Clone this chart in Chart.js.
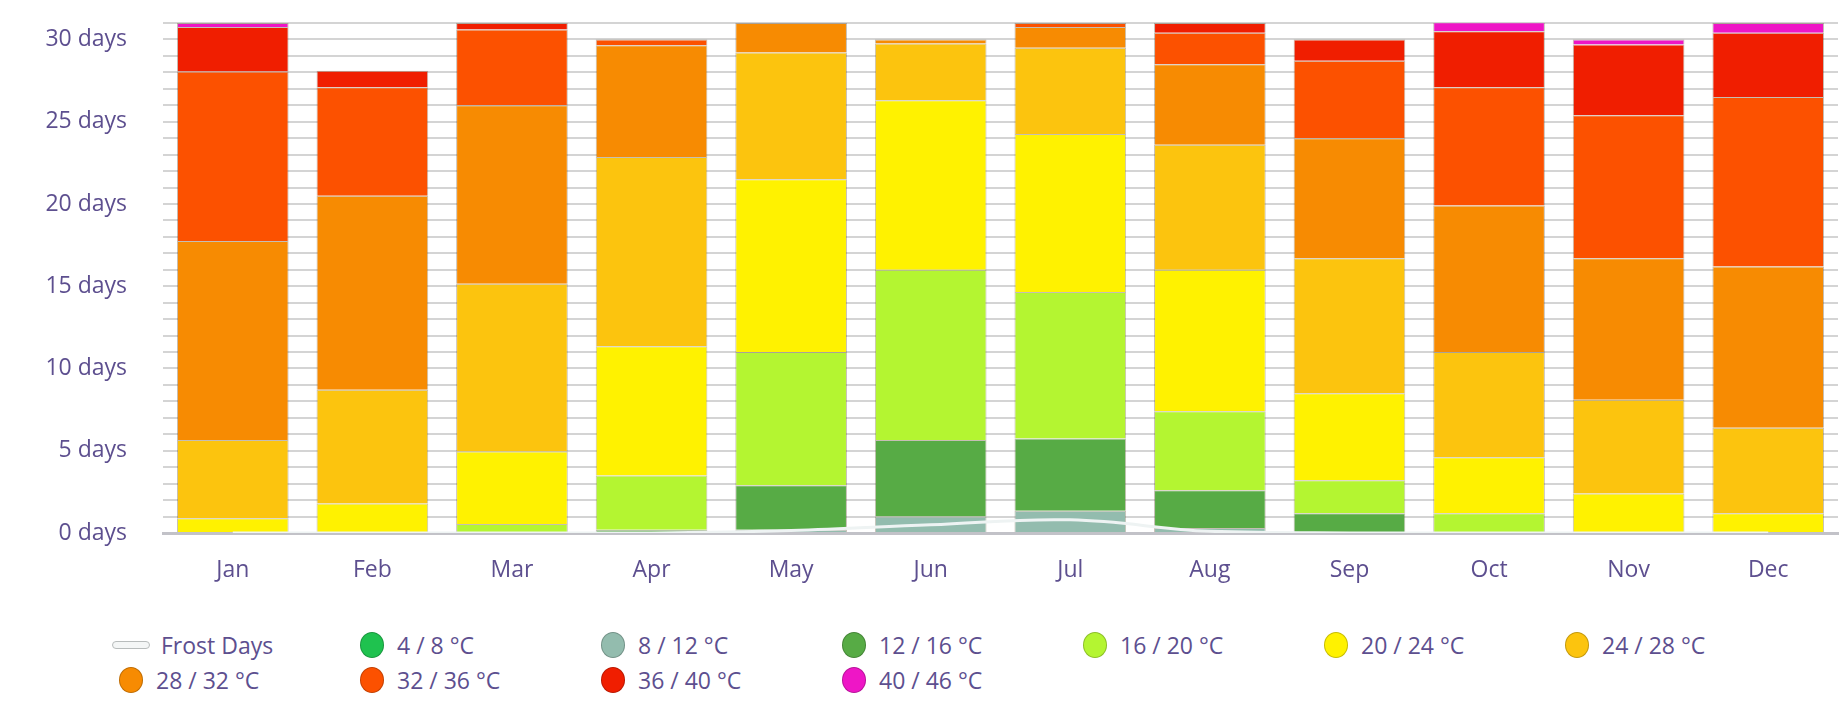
<!DOCTYPE html>
<html>
<head>
<meta charset="utf-8">
<script src="https://cdn.jsdelivr.net/npm/chart.js@4.4.1/dist/chart.umd.min.js"></script>
<style>
  body { margin: 0; background: #fff; }
  #wrap { position: relative; width: 1846px; height: 703px; }
  #chart { position: absolute; left: 0; top: 0; }
  .leg { position: absolute; display: flex; align-items: center; font-family: "Open Sans", sans-serif;
         font-size: 23px; color: #5d4f8f; white-space: nowrap; transform: translateY(-50%); }
  .dot { width: 24px; height: 26px; border-radius: 50%; box-sizing: border-box;
         border: 1.5px solid rgba(0,0,0,0.22); margin-right: 13px; }
  .dash { width: 38px; height: 8px; border-radius: 4px; box-sizing: border-box;
          border: 1.5px solid #b8bcbc; background: #f4f6f6; margin-right: 11px; }
</style>
</head>
<body>
<div id="wrap">
  <canvas id="chart" width="1846" height="600"></canvas>
  <div id="legend"></div>
</div>
<script>
// months and tick labels
const months = ['Jan', 'Feb', 'Mar', 'Apr', 'May', 'Jun', 'Jul', 'Aug', 'Sep', 'Oct', 'Nov', 'Dec'];
const yTickStep = 5;
const yMax = 31;

// frost days line
const frostDays = [0, 0, 0, 0, 0.15, 0.5, 0.8, 0.1, 0, 0, 0, 0];

// days per month in each max-temperature band
const t4_8   = [0, 0, 0, 0, 0, 0, 0, 0, 0, 0, 0, 0];
const t8_12  = [0, 0, 0, 0, 0.2, 1.0, 1.35, 0.3, 0, 0, 0, 0];
const t12_16 = [0, 0, 0, 0.2, 2.7, 4.65, 4.4, 2.3, 1.2, 0, 0, 0];
const t16_20 = [0, 0, 0.55, 3.3, 8.1, 10.35, 8.9, 4.8, 2.0, 1.2, 0, 0];
const t20_24 = [0.9, 1.8, 4.4, 7.85, 10.5, 10.3, 9.6, 8.6, 5.3, 3.4, 2.4, 1.2];
const t24_28 = [4.75, 6.9, 10.2, 11.5, 7.7, 3.45, 5.25, 7.6, 8.2, 6.4, 5.7, 5.2];
const t28_32 = [12.1, 11.8, 10.85, 6.8, 1.8, 0.25, 1.25, 4.9, 7.3, 8.9, 8.6, 9.8];
const t32_36 = [10.3, 6.6, 4.6, 0.35, 0, 0, 0.25, 1.9, 4.7, 7.2, 8.7, 10.3];
const t36_40 = [2.7, 1.0, 0.4, 0, 0, 0, 0, 0.6, 1.3, 3.4, 4.3, 3.9];
const t40_46 = [0.25, 0, 0, 0, 0, 0, 0, 0, 0, 0.55, 0.3, 0.6];

const bandLabels = ['4 / 8 °C', '8 / 12 °C', '12 / 16 °C', '16 / 20 °C', '20 / 24 °C',
                    '24 / 28 °C', '28 / 32 °C', '32 / 36 °C', '36 / 40 °C', '40 / 46 °C'];
const bandValues = [t4_8, t8_12, t12_16, t16_20, t20_24, t24_28, t28_32, t32_36, t36_40, t40_46];
const bandColors = ['#1fc24f', '#93bcae', '#57ab45', '#b4f531', '#fff200',
                    '#fcc40e', '#f78b02', '#fc5100', '#f01e00', '#ee16c6'];

const textColor = '#5d4f8f';
const font = { family: '"Open Sans", sans-serif', size: 23 };

const datasets = [{
    type: 'line',
    label: 'Frost Days',
    data: frostDays,
    stack: 'frost',
    borderColor: '#eef3f3',
    borderWidth: 3,
    pointRadius: 0,
    tension: 0.4,
    fill: false
}];
bandLabels.forEach((label, i) => {
    datasets.push({
        type: 'bar',
        label: label,
        data: bandValues[i],
        stack: 'temp',
        backgroundColor: bandColors[i],
        borderColor: 'rgba(90, 70, 40, 0.35)',
        borderWidth: 1,
        barPercentage: 0.8,
        categoryPercentage: 1
    });
});

const ctx = document.getElementById('chart').getContext('2d');
const chart = new Chart(ctx, {
    data: { labels: months, datasets: datasets },
    options: {
        responsive: false,
        animation: false,
        layout: { padding: { top: 23, right: 8, left: 0, bottom: 0 } },
        plugins: { legend: { display: false }, tooltip: { enabled: false } },
        scales: {
            x: {
                stacked: true,
                offset: true,
                grid: { display: false, drawTicks: false },
                border: { display: true, color: '#c2c2c8', width: 3 },
                ticks: { color: textColor, font: font, padding: 24 },
                afterFit: (s) => { s.height = 67; s.paddingLeft = 0; s.paddingRight = 0; }
            },
            y: {
                stacked: true,
                min: 0,
                max: yMax,
                grid: { color: '#d4d4d4', lineWidth: 2, drawTicks: false },
                border: { display: false },
                ticks: {
                    stepSize: 1,
                    autoSkip: false,
                    color: textColor,
                    font: font,
                    padding: 36,
                    callback: (v) => (v % yTickStep === 0 ? v + ' days' : '')
                },
                afterFit: (s) => { s.width = 163; s.paddingTop = 0; s.paddingBottom = 0; }
            }
        }
    }
});

// legend laid out in fixed columns below the chart
const legend = document.getElementById('legend');
const legendItems = [{ label: 'Frost Days', line: true }].concat(
    bandLabels.map((l, i) => ({ label: l, color: bandColors[i] })));
legendItems.forEach((item, i) => {
    const col = i % 7, row = Math.floor(i / 7);
    const el = document.createElement('div');
    el.className = 'leg';
    el.style.left = (item.line ? 112 : 119) + col * 241 + 'px';
    el.style.top = 645 + row * 35 + 'px';
    const icon = document.createElement('span');
    if (item.line) {
        icon.className = 'dash';
    } else {
        icon.className = 'dot';
        icon.style.background = item.color;
    }
    el.appendChild(icon);
    el.appendChild(document.createTextNode(item.label));
    legend.appendChild(el);
});
</script>
</body>
</html>
